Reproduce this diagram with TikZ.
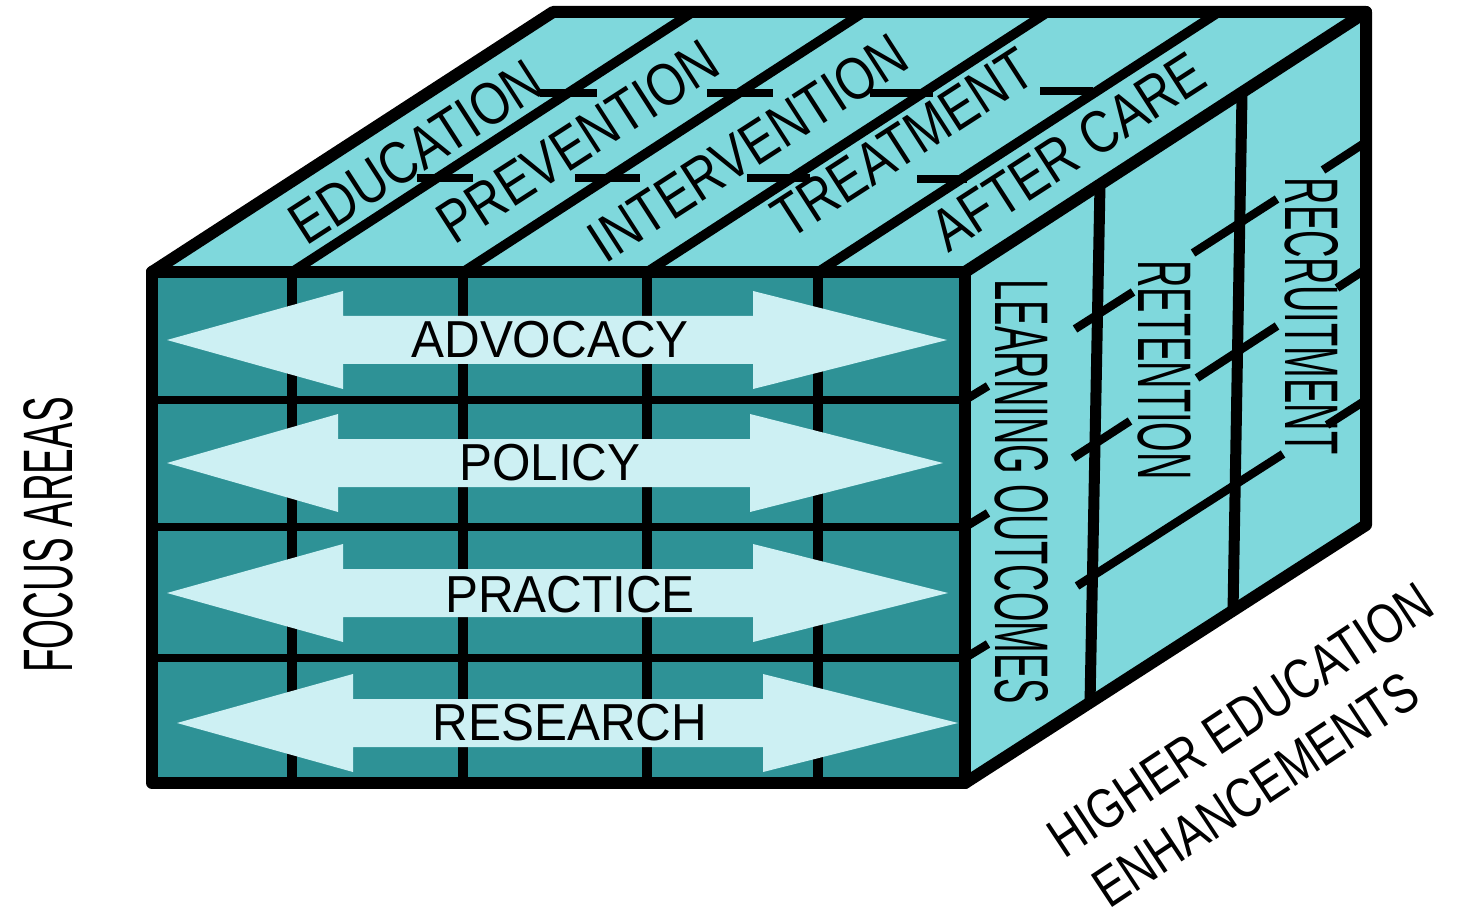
\documentclass[tikz,border=0pt]{standalone}
\usepackage{fontspec}
\setmainfont{Liberation Sans}
\newfontfamily\frontfont[FakeStretch=0.95]{Liberation Sans}
\newfontfamily\topfont[FakeStretch=0.82]{Liberation Sans}
\newfontfamily\sidefont[FakeStretch=0.5]{Liberation Sans}
\newfontfamily\axisfont[FakeStretch=0.55]{Liberation Sans}
\newfontfamily\heefont[FakeStretch=0.8]{Liberation Sans}
\definecolor{frontc}{RGB}{46,146,150}
\definecolor{lightc}{RGB}{127,216,220}
\definecolor{arrowc}{RGB}{205,240,243}
\newcommand\dblarr[5]{%
  \fill[arrowc] (#2,#1) -- (#3,#1-49) -- (#3,#1-24) -- (#4,#1-24) -- (#4,#1-49)
    -- (#5,#1) -- (#4,#1+49) -- (#4,#1+24) -- (#3,#1+24) -- (#3,#1+49) -- cycle;}
\begin{document}
\begin{tikzpicture}[x=0.5pt,y=-0.5pt,
  outer/.style={line width=6pt,line join=round,line cap=round},
  inner/.style={line width=4.8pt},
  thin/.style={line width=4pt},
  tick/.style={line width=4.2pt},
  rvert/.style={line width=5.5pt},
  frontlbl/.style={font=\frontfont\fontsize{26}{26}\selectfont,inner sep=0pt},
  toplbl/.style={rotate=32.8,font=\topfont\fontsize{30}{30}\selectfont,inner sep=0pt},
  sidelbl/.style={rotate=-90,font=\sidefont\fontsize{38}{38}\selectfont,inner sep=0pt},
  axislbl/.style={inner sep=0pt},
  heelbl/.style={inner sep=0pt,rotate=33.5,font=\heefont\fontsize{28}{28}\selectfont}]
\useasboundingbox (0,0) rectangle (1459,908);
% faces
\fill[frontc] (152,272) rectangle (965,783);
\fill[lightc] (152,272) -- (553,12) -- (1366,12) -- (965,272) -- cycle;
\fill[lightc] (965,272) -- (1366,12) -- (1366,525) -- (965,783) -- cycle;
% front grid
\foreach \x in {292,463,647,818} \draw[inner] (\x,272) -- (\x,783);
\foreach \y in {400,527,658} \draw[thin] (152,\y) -- (965,\y);
% arrows
\dblarr{340}{167}{343}{753}{947}
\dblarr{463}{167}{338}{750}{943}
\dblarr{593}{167}{343}{753}{948}
\dblarr{723}{177}{353}{763}{958}
% top face lines
\foreach \x in {292,463,647,818} \draw[inner] (\x,272) -- (\x+401,12);
\draw[tick] (540,93) -- (597,93);
\draw[tick] (707,93) -- (773,93);
\draw[tick] (870,93) -- (933,93);
\draw[tick] (1040,91) -- (1093,91);
\draw[tick] (417,178) -- (473,178);
\draw[tick] (575,178) -- (640,178);
\draw[tick] (747,178) -- (810,178);
\draw[tick] (917,179) -- (967,179);
% right face verticals
\draw[rvert] (1100,184) -- (1090,703);
\draw[rvert] (1242,94) -- (1233,611);
% right face slanted segments
\draw[tick] (965,400) -- (988,386);
\draw[tick] (965,527) -- (988,513);
\draw[tick] (965,658) -- (988,644);
\draw[tick] (1075,329) -- (1133,292);
\draw[tick] (1073,458) -- (1130,421);
\draw[tick] (1077,586) -- (1283,454);
\draw[tick] (1193,253) -- (1277,199);
\draw[tick] (1197,378) -- (1277,326);
\draw[tick] (1323,170) -- (1366,142);
\draw[tick] (1337,288) -- (1366,269);
\draw[tick] (1327,425) -- (1366,400);
% outline
\draw[outer] (152,272) rectangle (965,783);
\draw[outer] (152,272) -- (553,12) -- (1366,12) -- (1366,525) -- (965,783);
\draw[outer] (965,272) -- (1366,12);
% front labels
\node[frontlbl] (adv) at (550,340) {ADVOCACY};
\node[frontlbl] (pol) at (550,463) {POLICY};
\node[frontlbl] (pra) at (570,595) {PRACTICE};
\node[frontlbl] (res) at (570,723) {RESEARCH};
% top labels
\node[toplbl] (edu) at (416,152) {EDUCATION};
\node[toplbl] (pre) at (578,142) {PREVENTION};
\node[toplbl] (int) at (748,148) {INTERVENTION};
\node[toplbl] (tre) at (903,143) {TREATMENT};
\node[toplbl] (aft) at (1068,152) {AFTER CARE};
% side labels
\node[sidelbl] (lo) at (1022,492) {LEARNING OUTCOMES};
\node[sidelbl] (ret) at (1165,370) {RETENTION};
\node[sidelbl] (rec) at (1312,316) {RECRUITMENT};
% axis labels
\node[axislbl,rotate=90,font=\axisfont\fontsize{35}{35}\selectfont] (fa) at (48,535) {FOCUS AREAS};
\node[heelbl] (hee1) at (1240,720) {HIGHER EDUCATION};
\node[heelbl] (hee2) at (1256,790) {ENHANCEMENTS};
\end{tikzpicture}
\end{document}
